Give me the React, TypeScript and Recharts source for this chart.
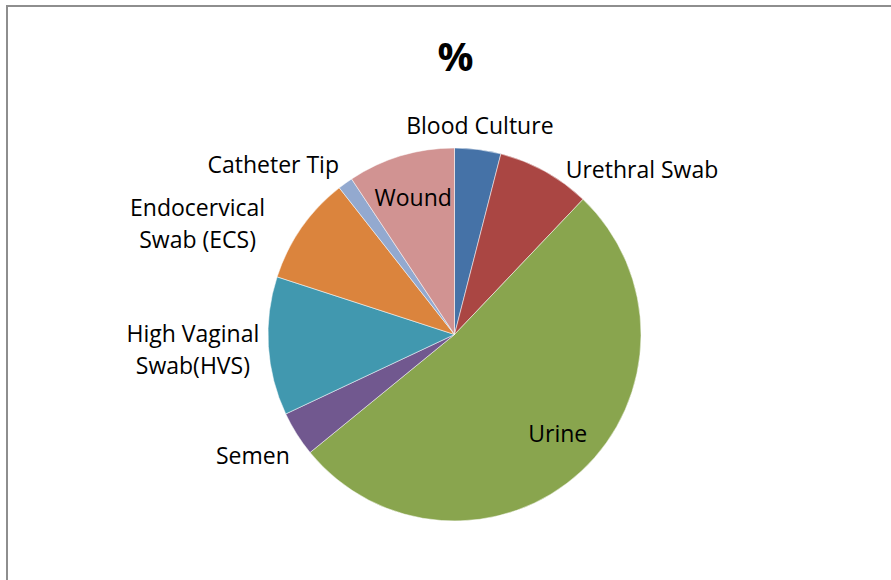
import React from 'react';
import { PieChart, Pie, Cell } from 'recharts';

// clockwise from 12 o'clock
const categories = [
  'Blood Culture',
  'Urethral Swab',
  'Urine',
  'Semen',
  'High Vaginal\nSwab(HVS)',
  'Endocervical\nSwab (ECS)',
  'Catheter Tip',
  'Wound',
];
const percents = [4.0, 8.1, 52.0, 3.9, 12.0, 9.4, 1.3, 9.3];

const COLORS = ['#4572A7', '#AA4643', '#89A54E', '#71588F', '#4198AF', '#DB843D', '#93A9CF', '#D19392'];

// label placement: angle shift (deg, clockwise) and distance from centre
const LABEL_POS: Record<string, { shift: number; r: number }> = {
  'Blood Culture': { shift: -0.3, r: 211 },
  'Urethral Swab': { shift: 19.6, r: 250 },
  Urine: { shift: -3.4, r: 143 },
  Semen: { shift: 1.3, r: 235 },
  'High Vaginal\nSwab(HVS)': { shift: 0.4, r: 262 },
  'Endocervical\nSwab (ECS)': { shift: -11.5, r: 280 },
  'Catheter Tip': { shift: -10.9, r: 249 },
  Wound: { shift: 0, r: 143.6 },
};

const data = categories.map((name, i) => ({ name, value: percents[i] }));

const FONT = '"Open Sans", sans-serif';

const renderLabel = (props: any) => {
  const { cx, cy, midAngle, name } = props;
  const pos = LABEL_POS[name] || { shift: 0, r: 210 };
  // recharts angle is counter-clockwise from 3 o'clock
  const a = ((midAngle - pos.shift) * Math.PI) / 180;
  const x = cx + pos.r * Math.cos(a);
  const y = cy - pos.r * Math.sin(a);
  const lines = String(name).split('\n');
  const lh = 32.5;
  const y0 = y - ((lines.length - 1) * lh) / 2;
  return (
    <text x={x} y={y0} textAnchor="middle" dominantBaseline="central" fill="#000" fontSize={23} fontFamily={FONT}>
      {lines.map((l, i) => (
        <tspan key={i} x={x} dy={i === 0 ? 0 : lh}>
          {l}
        </tspan>
      ))}
    </text>
  );
};

export default function App() {
  return (
    <div style={{ position: 'absolute', left: 0, top: 0, width: 891, height: 580, overflow: 'hidden', background: '#fff' }}>
      <div
        style={{
          position: 'absolute',
          left: 6,
          top: 5,
          width: 1000,
          height: 1000,
          border: '2px solid #8e8e8e',
        }}
      />
      <div
        style={{
          position: 'absolute',
          left: 0,
          top: 31,
          width: 891,
          textAlign: 'center',
          paddingLeft: 20,
          boxSizing: 'border-box',
          fontFamily: FONT,
          fontWeight: 'bold',
          fontSize: 40,
          lineHeight: '50px',
          color: '#000',
        }}
      >
        %
      </div>
      <div style={{ position: 'absolute', left: 0, top: 0 }}>
        <PieChart width={891} height={580} margin={{ top: 0, right: 0, bottom: 0, left: 0 }}>
          <Pie
            data={data}
            dataKey="value"
            nameKey="name"
            cx={454.5}
            cy={334.5}
            outerRadius={186.5}
            startAngle={90}
            endAngle={-270}
            stroke="#ffffff"
            strokeWidth={0.5}
            label={renderLabel}
            labelLine={false}
            isAnimationActive={false}
          >
            {data.map((entry, idx) => (
              <Cell key={`cell-${idx}`} fill={COLORS[idx % COLORS.length]} />
            ))}
          </Pie>
        </PieChart>
      </div>
    </div>
  );
}
